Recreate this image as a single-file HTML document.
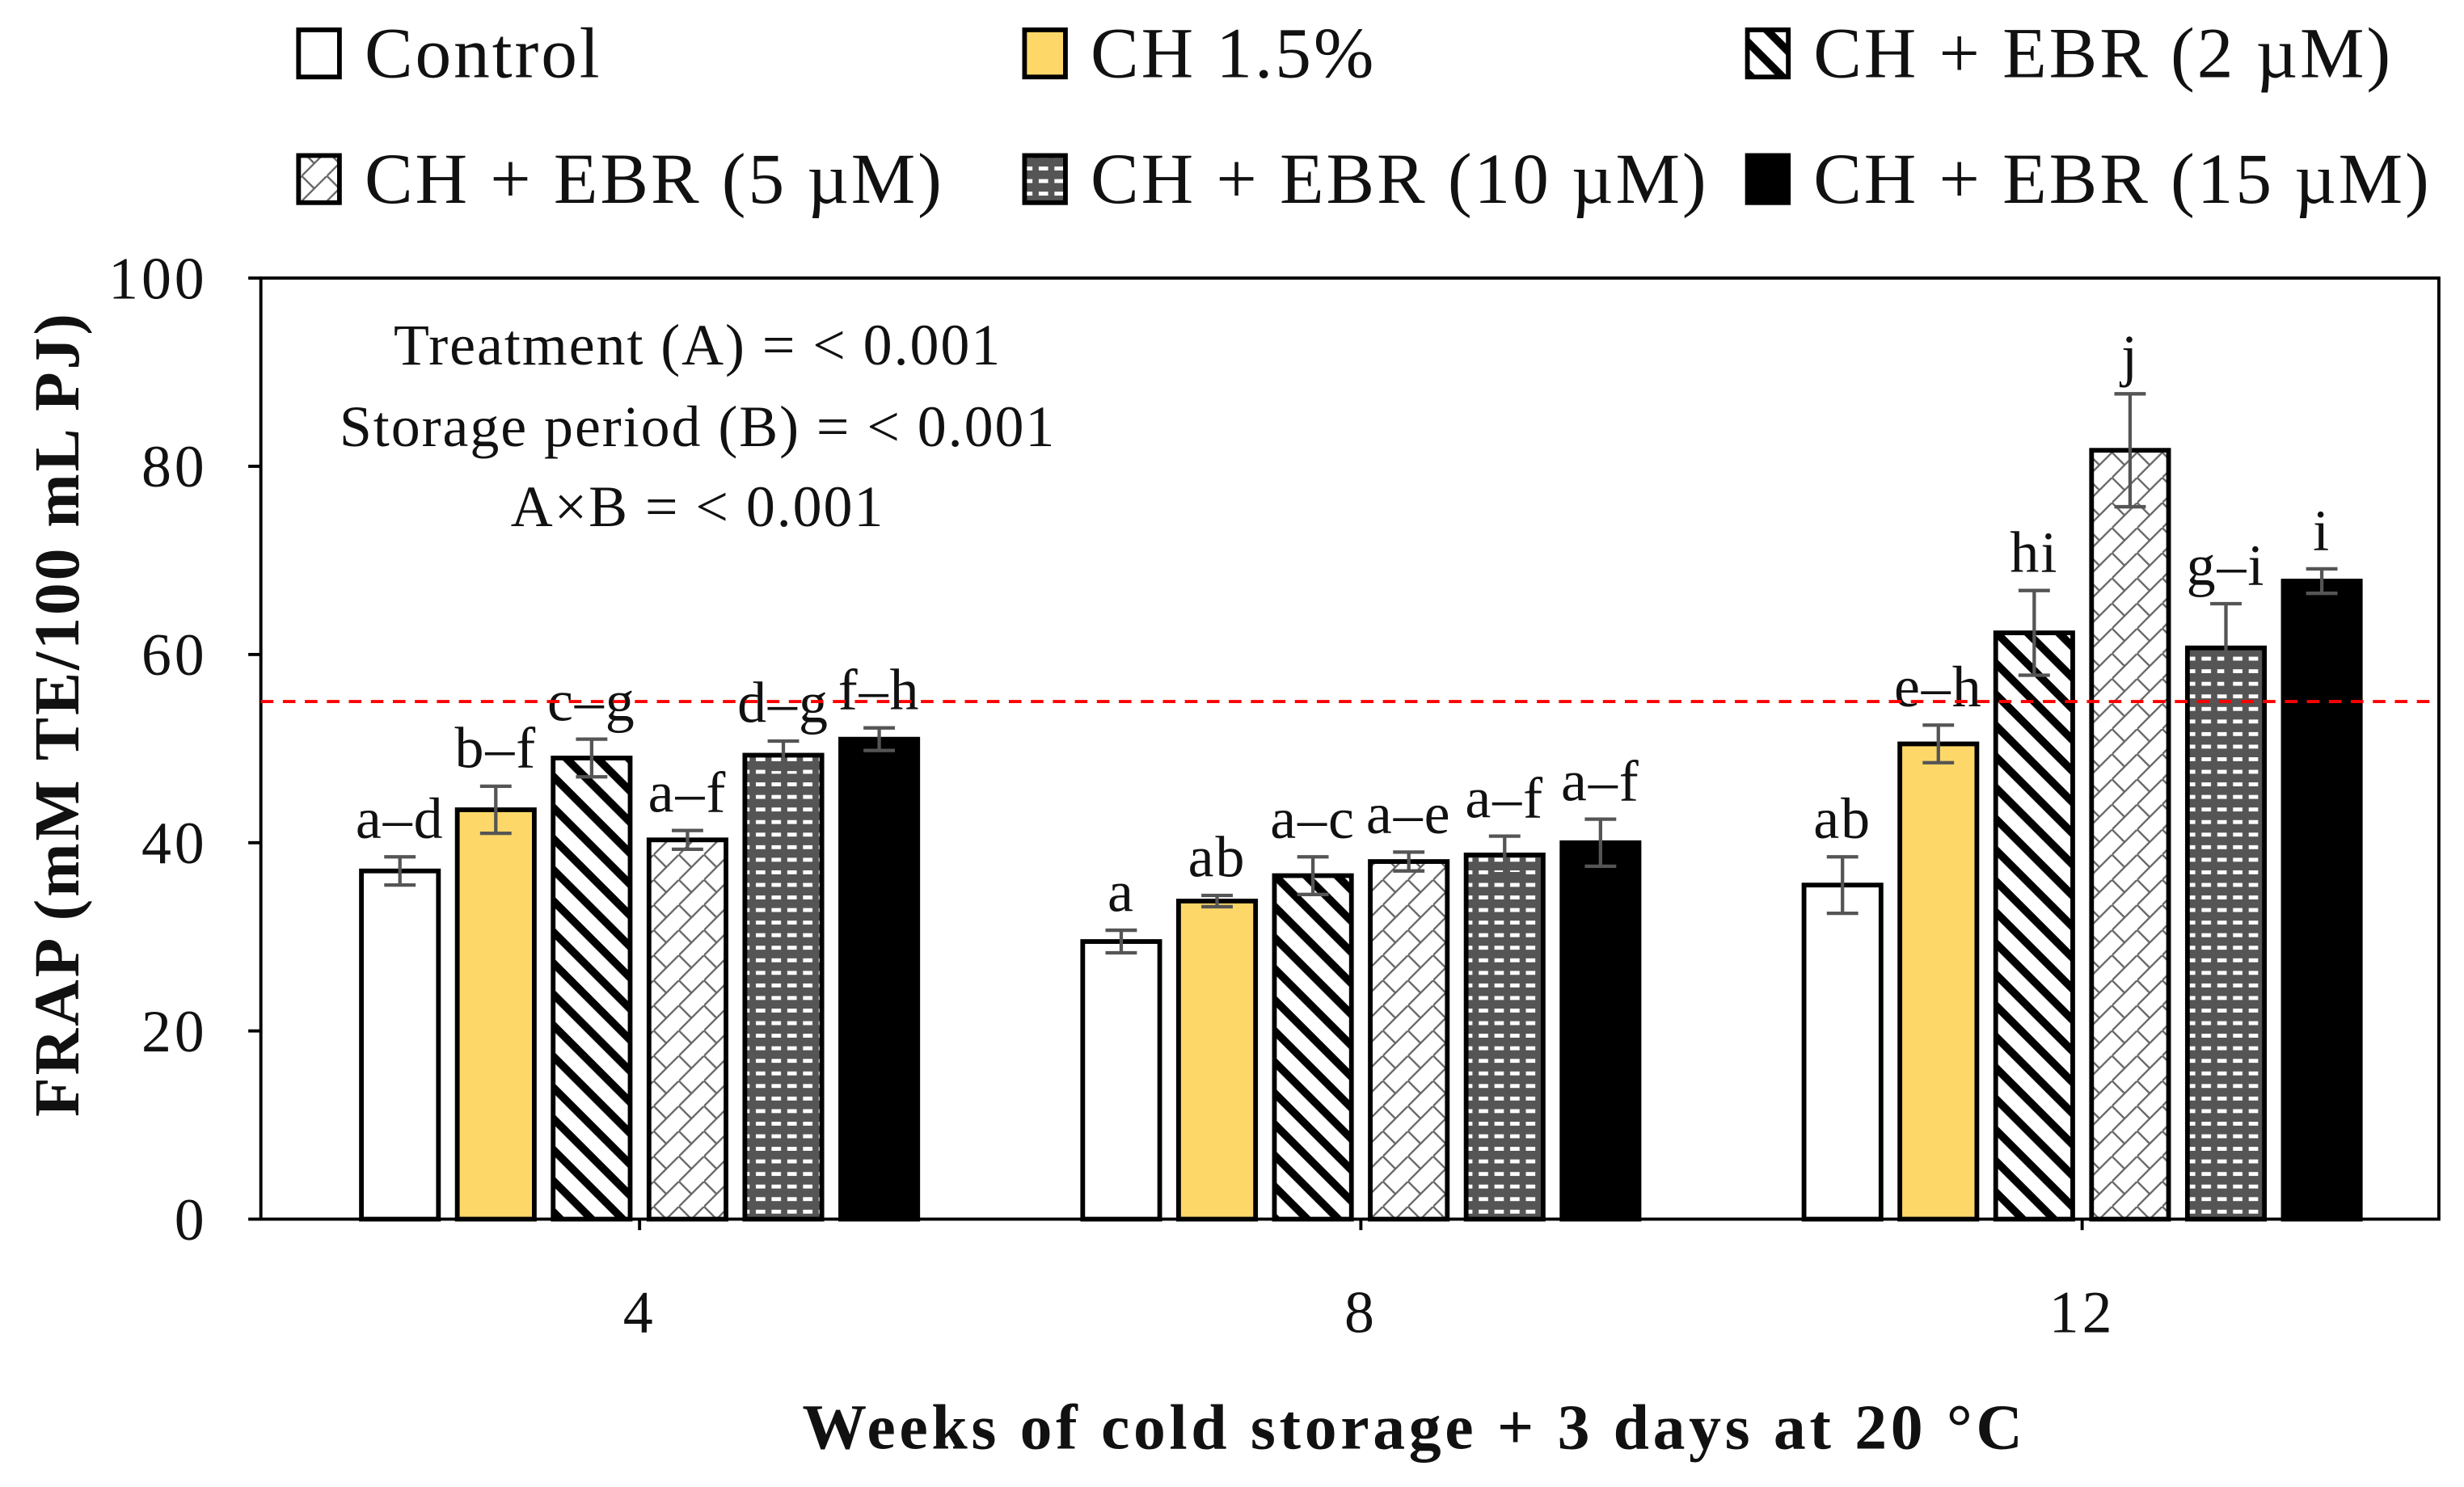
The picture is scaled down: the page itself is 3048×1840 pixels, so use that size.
<!DOCTYPE html>
<html><head><meta charset="utf-8"><style>
html,body{margin:0;padding:0;background:#fff;}
svg{display:block;}
text{font-family:"Liberation Serif","DejaVu Serif",serif;fill:#111;}
</style></head><body>
<svg id="chart" width="3048" height="1840" viewBox="0 0 1568 946.5" preserveAspectRatio="none" xmlns="http://www.w3.org/2000/svg">
<defs>
<pattern id="pStripe" patternUnits="userSpaceOnUse" width="14" height="14" patternTransform="rotate(45)">
<rect width="14" height="14" fill="#fff"/><rect x="0" y="0" width="14" height="5" fill="#000"/>
</pattern>
<pattern id="pCross" patternUnits="userSpaceOnUse" width="16" height="16">
<rect width="16" height="16" fill="#fff"/>
<path d="M0 16 L16 0 M0 0 L8 8" stroke="#666" stroke-width="1.2" fill="none"/>
</pattern>
<pattern id="pBrick" patternUnits="userSpaceOnUse" width="10" height="8">
<rect width="10" height="8" fill="#555"/>
<rect x="1" y="2" width="6" height="2.5" fill="#fff"/>
</pattern>
</defs>
<g id="legend"></g>
<g id="plot"></g>
</svg>
<script>
const categories = ["4", "8", "12"];
const seriesNames = ["Control", "CH 1.5%", "CH + EBR (2 \u00b5M)", "CH + EBR (5 \u00b5M)", "CH + EBR (10 \u00b5M)", "CH + EBR (15 \u00b5M)"];
const control = [37, 29.5, 35.5];
const ch15 = [43.5, 33.8, 50.5];
const ebr2 = [49, 36.5, 62.3];
const ebr5 = [40.3, 38, 81.7];
const ebr10 = [49.3, 38.7, 60.7];
const ebr15 = [51, 40, 67.8];
const errControl = [1.5, 1.2, 3];
const errCh15 = [2.5, 0.6, 2];
const errEbr2 = [2, 2, 4.5];
const errEbr5 = [1, 1, 6];
const errEbr10 = [1.5, 2, 4.7];
const errEbr15 = [1.2, 2.5, 1.3];
const lettersControl = ["a\u2013d", "a", "ab"];
const lettersCh15 = ["b\u2013f", "ab", "e\u2013h"];
const lettersEbr2 = ["c\u2013g", "a\u2013c", "hi"];
const lettersEbr5 = ["a\u2013f", "a\u2013e", "j"];
const lettersEbr10 = ["d\u2013g", "a\u2013f", "g\u2013i"];
const lettersEbr15 = ["f\u2013h", "a\u2013f", "i"];
const yTicks = [0, 20, 40, 60, 80, 100];
const refLine = 55;

const NS = "http://www.w3.org/2000/svg";
const L = 166, R = 1552, T = 177, B = 776;
const yMax = 100;
function y(v){ return B - (v / yMax) * (B - T); }
const groupStart = 407, groupStep = 459, barStep = 61, barW = 49;
function xc(g){ return groupStart + groupStep * g; }
function xb(g, s){ return xc(g) + (s - 2.5) * barStep - barW / 2; }
function mk(tag, attrs, parent){ const e = document.createElementNS(NS, tag); for (const k in attrs) e.setAttribute(k, attrs[k]); parent.appendChild(e); return e; }

const plot = document.getElementById('plot');
const legend = document.getElementById('legend');
const series = [control, ch15, ebr2, ebr5, ebr10, ebr15];
const errs = [errControl, errCh15, errEbr2, errEbr5, errEbr10, errEbr15];
const letters = [lettersControl, lettersCh15, lettersEbr2, lettersEbr5, lettersEbr10, lettersEbr15];
const fills = ["#fff", "#fdd868", "url(#pStripe)", "url(#pCross)", "url(#pBrick)", "#000"];
const keys = ["control", "ch15", "ebr2", "ebr5", "ebr10", "ebr15"];

const frame = mk('rect', {x: L, y: T, width: R - L, height: B - T, fill: 'none', stroke: '#000', 'stroke-width': 2}, plot);



yTicks.forEach(t => {
  const tk = mk('line', {x1: L - 8, x2: L, y1: y(t), y2: y(t), stroke: '#000', 'stroke-width': 2}, plot);
  
  
  const tl = mk('text', {x: L - 34, y: y(t) + 13, 'text-anchor': 'end', 'font-size': 38, 'letter-spacing': 2}, plot);
  tl.textContent = t;
  
  
});
categories.forEach((c, g) => {
  const tk = mk('line', {x1: xc(g), x2: xc(g), y1: B, y2: B + 7, stroke: '#000', 'stroke-width': 2}, plot);
  
  
  const tl = mk('text', {x: xc(g), y: B + 72, 'text-anchor': 'middle', 'font-size': 38, 'letter-spacing': 2}, plot);
  tl.textContent = c;
  
  
});

series.forEach((vals, s) => {
  vals.forEach((v, g) => {
    const bx = xb(g, s);
    const r = mk('rect', {x: bx, y: y(v), width: barW, height: B - y(v), fill: fills[s], stroke: '#000', 'stroke-width': 3}, plot);
    
    
    const e = errs[s][g], cx = bx + barW / 2;
    const eb = mk('path', {d: `M${cx} ${y(v + e)} V${y(v - e)} M${cx - 10} ${y(v + e)} H${cx + 10} M${cx - 10} ${y(v - e)} H${cx + 10}`, stroke: '#555', 'stroke-width': 2.2, fill: 'none'}, plot);
    
    
    const lt = mk('text', {x: cx, y: y(v + e) - 12, 'text-anchor': 'middle', 'font-size': 37, 'letter-spacing': 1}, plot);
    lt.textContent = letters[s][g];
    
    
  });
});

const rl = mk('line', {x1: L, x2: R, y1: y(refLine), y2: y(refLine), stroke: '#ff0000', 'stroke-width': 2, 'stroke-dasharray': '8 6'}, plot);



[["Treatment (A) = < 0.001", 444, 232], ["Storage period (B) = < 0.001", 444, 284], ["A\u00d7B = < 0.001", 444, 335]].forEach(a => {
  const t = mk('text', {x: a[1], y: a[2], 'text-anchor': 'middle', 'font-size': 37, 'letter-spacing': 1}, plot);
  t.textContent = a[0];
  
  
});

const yt = mk('text', {x: 0, y: 0, 'text-anchor': 'middle', 'font-size': 41, 'font-weight': 'bold', 'letter-spacing': 1.5, transform: `translate(50 ${(T + B) / 2 - 22}) rotate(-90)`}, plot);
yt.textContent = "FRAP (mM TE/100 mL PJ)";


const xt = mk('text', {x: 900, y: 922, 'text-anchor': 'middle', 'font-size': 41, 'font-weight': 'bold', 'letter-spacing': 2.4}, plot);
xt.textContent = "Weeks of cold storage + 3 days at 20 \u00b0C";



const legPos = [[190, 33], [652, 33], [1112, 33], [190, 113], [652, 113], [1112, 113]];
seriesNames.forEach((n, s) => {
  const [lx, ly] = legPos[s];
  const sw = mk('rect', {x: lx, y: ly - 14, width: 26, height: 30, fill: fills[s], stroke: '#000', 'stroke-width': 3}, legend);
  
  
  const t = mk('text', {x: lx + 42, y: ly + 16, 'font-size': 46, 'letter-spacing': 1.5}, legend);
  t.textContent = n;
  
  
});
</script>
</body></html>
